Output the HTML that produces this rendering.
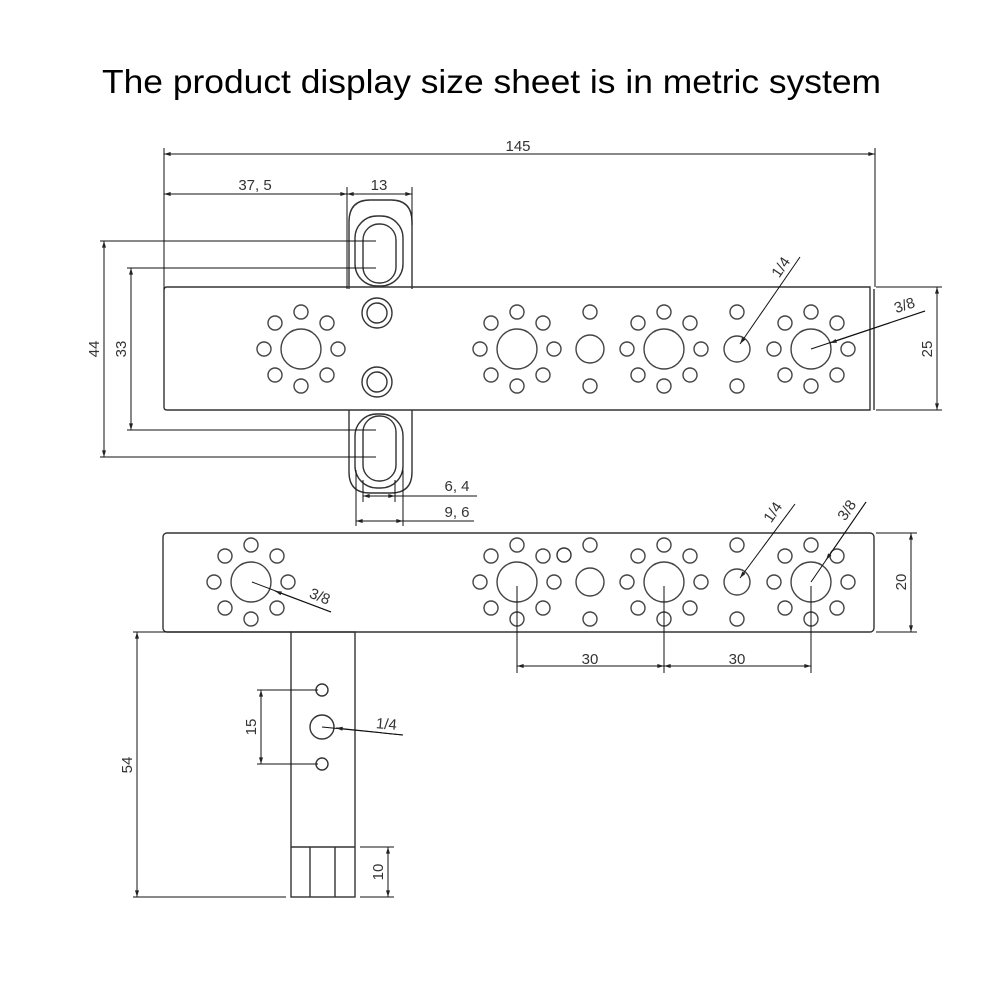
<!DOCTYPE html>
<html><head><meta charset="utf-8"><style>
html,body{margin:0;padding:0;background:#fff;width:1000px;height:1000px;overflow:hidden}
svg{display:block}
.t{font-family:"Liberation Sans",sans-serif;font-size:15px;fill:#333}
</style></head><body>
<svg width="1000" height="1000" viewBox="0 0 1000 1000" xmlns="http://www.w3.org/2000/svg">
<defs>
<marker id="a" viewBox="0 0 10 6" refX="10" refY="3" markerWidth="8" markerHeight="4" orient="auto-start-reverse" markerUnits="userSpaceOnUse"><path d="M0,0 L10,3 L0,6 z" fill="#222"/></marker>
<g id="fl" fill="none" stroke="#444" stroke-width="1.4">
<circle r="20" cx="0" cy="0"/>
<circle r="7" cx="0" cy="-37"/><circle r="7" cx="0" cy="37"/>
<circle r="7" cx="-37" cy="0"/><circle r="7" cx="37" cy="0"/>
<circle r="7" cx="-26" cy="-26"/><circle r="7" cx="26" cy="-26"/>
<circle r="7" cx="-26" cy="26"/><circle r="7" cx="26" cy="26"/>
</g>
<g id="c1" fill="none" stroke="#444" stroke-width="1.4">
<circle r="7" cx="0" cy="-37"/><circle r="14" cx="0" cy="0"/><circle r="7" cx="0" cy="37"/>
</g>
<g id="c2" fill="none" stroke="#444" stroke-width="1.4">
<circle r="7" cx="0" cy="-37"/><circle r="13" cx="0" cy="0"/><circle r="7" cx="0" cy="37"/>
</g>
</defs>

<text x="102" y="93" font-family="Liberation Sans, sans-serif" font-size="33" fill="#000" textLength="779" lengthAdjust="spacingAndGlyphs">The product display size sheet is in metric system</text>

<g fill="none" stroke="#333" stroke-width="1.4">
<path d="M349,289 V222 Q349,200 370,200 H391 Q412,200 412,222 V289"/>
<rect x="355" y="216" width="48" height="70" rx="22"/>
<rect x="363" y="224" width="33" height="59" rx="16"/>
<path d="M349,410 V472 Q349,493 370,493 H391 Q412,493 412,472 V410"/>
<rect x="355" y="414" width="48" height="74" rx="22"/>
<rect x="363" y="416" width="33" height="65" rx="16"/>
<path d="M167,287 H870 V410 H167 Q164,410 164,407 V290 Q164,287 167,287Z"/>
<line x1="874" y1="289" x2="874" y2="410"/>
<circle cx="377" cy="313" r="15"/><circle cx="377" cy="313" r="10"/>
<circle cx="377" cy="382" r="15"/><circle cx="377" cy="382" r="10"/>
<rect x="163" y="533" width="711" height="99" rx="4"/>
<rect x="291" y="632" width="64" height="265"/>
<line x1="291" y1="847" x2="355" y2="847"/>
<line x1="310" y1="847" x2="310" y2="897"/>
<line x1="335" y1="847" x2="335" y2="897"/>
<circle cx="322" cy="690" r="6"/><circle cx="322" cy="727" r="12"/><circle cx="322" cy="764" r="6"/>
<circle cx="564" cy="555" r="7"/>
</g>

<use href="#fl" x="301" y="349"/>
<use href="#fl" x="517" y="349"/>
<use href="#fl" x="664" y="349"/>
<use href="#fl" x="811" y="349"/>
<use href="#c1" x="590" y="349"/>
<use href="#c2" x="737" y="349"/>

<use href="#fl" x="251" y="582"/>
<use href="#fl" x="517" y="582"/>
<use href="#fl" x="664" y="582"/>
<use href="#fl" x="811" y="582"/>
<use href="#c1" x="590" y="582"/>
<use href="#c2" x="737" y="582"/>

<g fill="none" stroke="#111" stroke-width="1">
<line x1="164" y1="148" x2="164" y2="290"/>
<line x1="875" y1="148" x2="875" y2="287"/>
<line x1="164" y1="154" x2="875" y2="154" marker-start="url(#a)" marker-end="url(#a)"/>
<line x1="347" y1="187" x2="347" y2="289"/>
<line x1="412" y1="187" x2="412" y2="225"/>
<line x1="164" y1="194" x2="347" y2="194" marker-start="url(#a)" marker-end="url(#a)"/>
<line x1="347" y1="194" x2="412" y2="194" marker-start="url(#a)" marker-end="url(#a)"/>
<line x1="100" y1="241" x2="376" y2="241"/>
<line x1="100" y1="457" x2="376" y2="457"/>
<line x1="127" y1="268" x2="376" y2="268"/>
<line x1="127" y1="430" x2="376" y2="430"/>
<line x1="104" y1="241" x2="104" y2="457" marker-start="url(#a)" marker-end="url(#a)"/>
<line x1="131" y1="268" x2="131" y2="430" marker-start="url(#a)" marker-end="url(#a)"/>
<line x1="876" y1="287" x2="942" y2="287"/>
<line x1="876" y1="410" x2="942" y2="410"/>
<line x1="937" y1="287" x2="937" y2="410" marker-start="url(#a)" marker-end="url(#a)"/>
<line x1="363" y1="480" x2="363" y2="502"/>
<line x1="395" y1="480" x2="395" y2="502"/>
<line x1="356" y1="470" x2="356" y2="526"/>
<line x1="403" y1="470" x2="403" y2="526"/>
<line x1="363" y1="496" x2="395" y2="496" marker-start="url(#a)" marker-end="url(#a)"/>
<line x1="395" y1="496" x2="477" y2="496"/>
<line x1="356" y1="521" x2="403" y2="521" marker-start="url(#a)" marker-end="url(#a)"/>
<line x1="403" y1="521" x2="474" y2="521"/>
<line x1="876" y1="533" x2="917" y2="533"/>
<line x1="876" y1="632" x2="917" y2="632"/>
<line x1="911" y1="533" x2="911" y2="632" marker-start="url(#a)" marker-end="url(#a)"/>
<line x1="517" y1="586" x2="517" y2="673"/>
<line x1="664" y1="586" x2="664" y2="673"/>
<line x1="811" y1="586" x2="811" y2="673"/>
<line x1="517" y1="666" x2="664" y2="666" marker-start="url(#a)" marker-end="url(#a)"/>
<line x1="664" y1="666" x2="811" y2="666" marker-start="url(#a)" marker-end="url(#a)"/>
<line x1="133" y1="632" x2="291" y2="632"/>
<line x1="133" y1="897" x2="286" y2="897"/>
<line x1="137" y1="632" x2="137" y2="897" marker-start="url(#a)" marker-end="url(#a)"/>
<line x1="257" y1="690" x2="318" y2="690"/>
<line x1="257" y1="764" x2="318" y2="764"/>
<line x1="261" y1="690" x2="261" y2="764" marker-start="url(#a)" marker-end="url(#a)"/>
<line x1="360" y1="847" x2="394" y2="847"/>
<line x1="360" y1="897" x2="394" y2="897"/>
<line x1="388" y1="847" x2="388" y2="897" marker-start="url(#a)" marker-end="url(#a)"/>
<line x1="800" y1="257" x2="740" y2="344" marker-end="url(#a)"/>
<line x1="925" y1="311" x2="811" y2="349"/>
<line x1="925" y1="311" x2="830" y2="343" marker-end="url(#a)"/>
<line x1="795" y1="504" x2="740" y2="578" marker-end="url(#a)"/>
<line x1="866" y1="502" x2="811" y2="582"/>
<line x1="866" y1="502" x2="826" y2="560" marker-end="url(#a)"/>
<line x1="331" y1="612" x2="252" y2="582"/>
<line x1="331" y1="612" x2="275" y2="591" marker-end="url(#a)"/>
<line x1="403" y1="735" x2="322" y2="727"/>
<line x1="403" y1="735" x2="336" y2="728" marker-end="url(#a)"/>
</g>

<g class="t">
<text x="518" y="151" text-anchor="middle">145</text>
<text x="255" y="190" text-anchor="middle">37, 5</text>
<text x="379" y="190" text-anchor="middle">13</text>
<text x="457" y="491" text-anchor="middle">6, 4</text>
<text x="457" y="517" text-anchor="middle">9, 6</text>
<text x="590" y="664" text-anchor="middle">30</text>
<text x="737" y="664" text-anchor="middle">30</text>
<text transform="translate(99,349) rotate(-90)" text-anchor="middle">44</text>
<text transform="translate(126,349) rotate(-90)" text-anchor="middle">33</text>
<text transform="translate(932,349) rotate(-90)" text-anchor="middle">25</text>
<text transform="translate(906,582) rotate(-90)" text-anchor="middle">20</text>
<text transform="translate(132,765) rotate(-90)" text-anchor="middle">54</text>
<text transform="translate(256,727) rotate(-90)" text-anchor="middle">15</text>
<text transform="translate(383,872) rotate(-90)" text-anchor="middle">10</text>
<text transform="translate(785,270) rotate(-56)" text-anchor="middle">1/4</text>
<text transform="translate(906,310) rotate(-18)" text-anchor="middle">3/8</text>
<text transform="translate(777,515) rotate(-56)" text-anchor="middle">1/4</text>
<text transform="translate(851,513) rotate(-56)" text-anchor="middle">3/8</text>
<text transform="translate(318,601) rotate(22)" text-anchor="middle">3/8</text>
<text transform="translate(386,729) rotate(5)" text-anchor="middle">1/4</text>
</g>
</svg>
</body></html>
